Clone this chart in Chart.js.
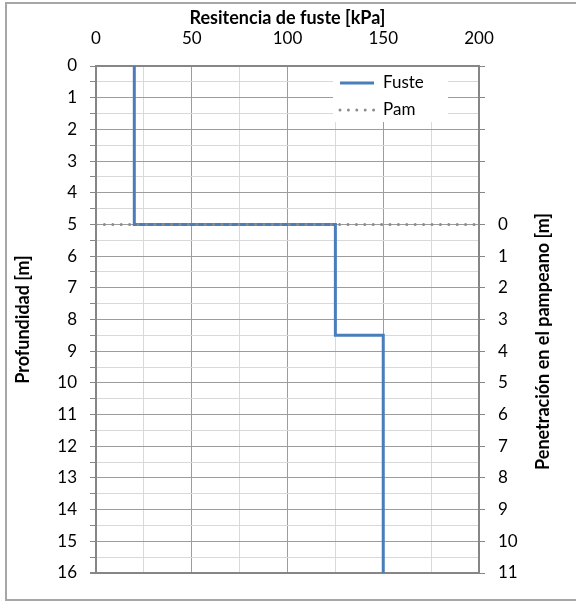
<!DOCTYPE html>
<html>
<head>
<meta charset="utf-8">
<script src="https://cdn.jsdelivr.net/npm/chart.js@4.4.0/dist/chart.umd.min.js"></script>
<style>
  html, body { margin: 0; padding: 0; background: #fff; }
  #wrap { width: 576px; height: 601px; position: relative; }
</style>
</head>
<body>
<div id="wrap"><canvas id="chart"></canvas></div>
<script>
// --- Data ---
const fusteX = [20, 20, 125, 125, 150, 150];   // kPa
const fusteY = [0, 5, 5, 8.5, 8.5, 16];        // depth, m
const pamX = [0, 200];
const pamY = [5, 5];

// tick labels
const xLabels = [0, 50, 100, 150, 200];
const depthLabels = [0, 1, 2, 3, 4, 5, 6, 7, 8, 9, 10, 11, 12, 13, 14, 15, 16];
const penLabels = [0, 1, 2, 3, 4, 5, 6, 7, 8, 9, 10, 11];
const rightTitle = "Penetración en el pampeano [m]";

const BLUE = "#4a7ebb";
const DOTS = "#8c8c8c";
const AXIS = "#868686";
const MAJOR = "#9c9c9c";
const MINOR = "#d9d9d9";
const FONT = "Lato";
const TITLE_FONT = { family: FONT, size: 18, weight: "bold" };

const toPoints = (xs, ys) => xs.map((x, i) => ({ x, y: ys[i] }));

// outer frame, legend box inside the plot, and the right title (reads bottom to top)
const frameAndLegend = {
  id: "frameAndLegend",
  beforeDraw(chart) {
    const c = chart.ctx;
    c.save();
    c.strokeStyle = "#a6a6a6";
    c.lineWidth = 2;
    c.strokeRect(6, 3, 620, 597);
    c.restore();
  },
  beforeDatasetsDraw(chart) {
    const c = chart.ctx;
    const area = chart.chartArea;
    const bx = area.right - 146, by = area.top + 1;
    c.save();
    c.fillStyle = "#fff";
    c.fillRect(bx, by, 115, 55);
    c.font = "17px " + FONT;
    c.textBaseline = "middle";
    c.fillStyle = "#000";
    chart.data.datasets.forEach((ds, i) => {
      const y = by + 16 + i * 27;
      c.beginPath();
      c.strokeStyle = ds.borderColor;
      c.lineWidth = ds.borderWidth;
      c.lineCap = ds.borderCapStyle || "butt";
      c.setLineDash(ds.borderDash || []);
      c.moveTo(bx + 7, y);
      c.lineTo(bx + 41, y);
      c.stroke();
      c.setLineDash([]);
      c.fillText(ds.label, bx + 50, y);
    });
    c.restore();
  },
  afterDraw(chart) {
    const c = chart.ctx;
    const area = chart.chartArea;
    c.save();
    c.translate(area.right + 64, (area.top + area.bottom) / 2 + 22);
    c.rotate(-Math.PI / 2);
    c.font = "bold 18px " + FONT;
    c.fillStyle = "#000";
    c.textAlign = "center";
    c.textBaseline = "middle";
    c.fillText(rightTitle, 0, 0);
    c.restore();
  }
};

const gridColor = (ctx, step, last) => {
  const v = ctx.tick ? ctx.tick.value : 0;
  if (v === last) return AXIS;
  return Math.abs(v % step) < 1e-9 ? MAJOR : MINOR;
};

new Chart(document.getElementById("chart"), {
  type: "scatter",
  data: {
    datasets: [
      {
        label: "Fuste",
        data: toPoints(fusteX, fusteY),
        showLine: true,
        borderColor: BLUE,
        borderWidth: 3,
        pointRadius: 0,
        tension: 0,
        order: 1
      },
      {
        label: "Pam",
        data: toPoints(pamX, pamY),
        showLine: true,
        borderColor: DOTS,
        borderWidth: 3,
        borderDash: [0, 8.4],
        borderCapStyle: "round",
        pointRadius: 0,
        order: 0
      }
    ]
  },
  options: {
    responsive: true,
    maintainAspectRatio: false,
    animation: false,
    layout: { padding: { top: 0, bottom: 28, left: 0, right: 0 } },
    plugins: {
      legend: { display: false },
      tooltip: { enabled: false }
    },
    scales: {
      x: {
        type: "linear",
        position: "top",
        min: 0,
        max: 200,
        ticks: {
          stepSize: 25,
          autoSkip: false,
          maxRotation: 0,
          padding: 17,
          color: "#000",
          font: { family: FONT, size: 17 },
          callback: v => (xLabels.includes(v) ? String(v) : "")
        },
        grid: { color: ctx => gridColor(ctx, 50, null), lineWidth: 1, drawTicks: false },
        border: { color: AXIS, width: 2 },
        title: {
          display: true,
          text: "Resitencia de fuste [kPa]",
          color: "#000",
          font: TITLE_FONT,
          padding: { top: 7, bottom: 0 }
        },
        afterFit: s => { s.height = 66; }
      },
      y: {
        type: "linear",
        position: "left",
        min: 0,
        max: 16,
        reverse: true,
        ticks: {
          stepSize: 0.5,
          autoSkip: false,
          padding: 13,
          color: "#000",
          font: { family: FONT, size: 17 },
          callback: v => (depthLabels.includes(v) ? String(v) : "")
        },
        grid: {
          color: ctx => gridColor(ctx, 1, 16),
          lineWidth: ctx => (ctx.tick && ctx.tick.value === 16 ? 2 : 1),
          tickColor: AXIS,
          tickLength: 6
        },
        border: { color: AXIS, width: 2 },
        title: {
          display: true,
          text: "Profundidad [m]",
          color: "#000",
          font: TITLE_FONT,
          padding: { top: 12, bottom: 0 }
        },
        afterFit: s => { s.width = 96; }
      },
      y2: {
        type: "linear",
        position: "right",
        min: -5,
        max: 11,
        reverse: true,
        ticks: {
          stepSize: 1,
          autoSkip: false,
          padding: 13,
          color: "#000",
          font: { family: FONT, size: 17 },
          callback: v => (penLabels.includes(v) ? String(v) : "")
        },
        grid: { drawOnChartArea: false, color: AXIS, tickLength: 6 },
        border: { color: AXIS, width: 2 },
        afterFit: s => { s.width = 97; }
      }
    }
  },
  plugins: [frameAndLegend]
});
</script>
</body>
</html>
